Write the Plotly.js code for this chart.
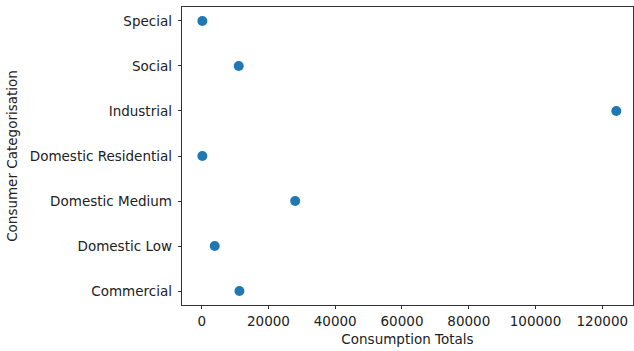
<!DOCTYPE html>
<html>
<head>
<meta charset="utf-8">
<script src="https://cdn.plot.ly/plotly-3.0.1.min.js"></script>
<style>html,body{margin:0;padding:0;background:#fff;}#chart{width:634px;height:351px;}</style>
</head>
<body>
<div id="chart"></div>
<script>
const categories = ["Commercial", "Domestic Low", "Domestic Medium", "Domestic Residential", "Industrial", "Social", "Special"];
const consumptionTotals = [11300, 3900, 28000, 200, 124200, 11100, 200];
const xTickValues = [0, 20000, 40000, 60000, 80000, 100000, 120000];
const xTickLabels = ["0", "20000", "40000", "60000", "80000", "100000", "120000"];

const font = {family: "DejaVu Sans", size: 13.5, color: "#222"};

Plotly.newPlot("chart", [{
  type: "scatter",
  mode: "markers",
  x: consumptionTotals,
  y: categories.map((c, i) => i),
  marker: {color: "#1f77b4", size: 10},
  hoverinfo: "skip"
}], {
  width: 634,
  height: 351,
  margin: {l: 182, r: 1, t: 7, b: 46},
  paper_bgcolor: "#fff",
  plot_bgcolor: "#fff",
  font: font,
  showlegend: false,
  xaxis: {
    range: [-5900, 129200],
    tickvals: xTickValues,
    ticktext: xTickLabels,
    ticks: "outside",
    ticklen: 3.5,
    tickwidth: 0.8,
    tickcolor: "#000",
    showline: true,
    mirror: true,
    linecolor: "#000",
    linewidth: 0.8,
    showgrid: false,
    zeroline: false,
    tickfont: font,
    title: {text: "Consumption Totals", font: font, standoff: 6}
  },
  yaxis: {
    range: [-0.31, 6.31],
    tickvals: categories.map((c, i) => i),
    ticktext: categories,
    ticks: "outside",
    ticklen: 3.5,
    tickwidth: 0.8,
    tickcolor: "#000",
    ticklabelstandoff: 3,
    showline: true,
    mirror: true,
    linecolor: "#000",
    linewidth: 0.8,
    showgrid: false,
    zeroline: false,
    tickfont: font,
    title: {text: "Consumer Categorisation", font: font, standoff: 8}
  }
}, {staticPlot: true, displayModeBar: false});
</script>
</body>
</html>
